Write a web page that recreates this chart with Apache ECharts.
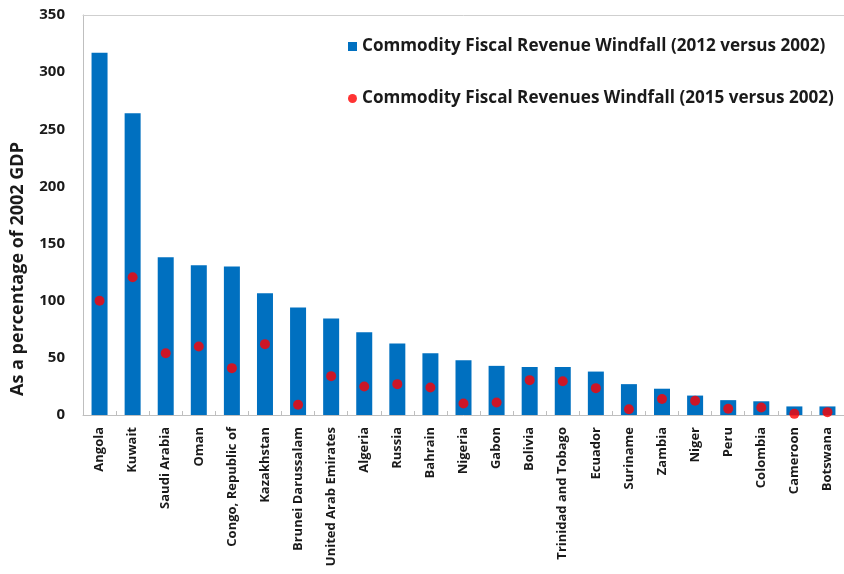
<!DOCTYPE html>
<html><head><meta charset="utf-8">
<script src="https://cdn.jsdelivr.net/npm/echarts@6/dist/echarts.min.js"></script>
<style>html,body{margin:0;padding:0;background:#fff}#c{width:844px;height:574px}</style>
</head><body><div id="c"></div>
<script>
const categories = ["Angola","Kuwait","Saudi Arabia","Oman","Congo, Republic of","Kazakhstan","Brunei Darussalam","United Arab Emirates","Algeria","Russia","Bahrain","Nigeria","Gabon","Bolivia","Trinidad and Tobago","Ecuador","Suriname","Zambia","Niger","Peru","Colombia","Cameroon","Botswana"];
const windfall2012 = [317,264,138,131,130,106.5,94,84.5,72.5,62.5,54,48,43,42,42,38,27,23,17,13,12,7.5,7.5];
const windfall2015 = [100,120.5,54,60,41,62,9,34,25,27,24,10,11,30.5,29.5,23.5,5,14,12.5,5.5,6.5,1,2.5];
const yTicks = {min:0,max:350,interval:50};

const FONT = 'Open Sans';
const chart = echarts.init(document.getElementById('c'));
chart.setOption({
  animation:false,
  textStyle:{fontFamily:FONT},
  grid:{left:83,right:-9,top:15,bottom:159},
  legend:[{
    data:[{name:'Commodity Fiscal Revenue Windfall (2012 versus 2002)',icon:'rect'}],
    left:343,top:33,itemWidth:9,itemHeight:9,itemGap:8,
    textStyle:{fontFamily:FONT,fontWeight:'bold',fontSize:17.1,color:'#1a1a1a'}
  },{
    data:[{name:'Commodity Fiscal Revenues Windfall (2015 versus 2002)',icon:'circle'}],
    left:343,top:85,itemWidth:9,itemHeight:9,itemGap:8,
    textStyle:{fontFamily:FONT,fontWeight:'bold',fontSize:17.1,color:'#1a1a1a'}
  }],
  xAxis:[{
    type:'category',data:categories,
    axisLine:{lineStyle:{color:'#bfbfbf',width:1}},
    axisTick:{show:true,inside:true,length:4,lineStyle:{color:'#bfbfbf'}},
    axisLabel:{rotate:90,interval:0,fontFamily:FONT,fontWeight:'bold',fontSize:13,color:'#1a1a1a',margin:12}
  },{
    type:'category',data:categories,position:'top',
    axisLine:{lineStyle:{color:'#cfcfcf',width:1}},
    axisTick:{show:false},axisLabel:{show:false}
  }],
  yAxis:{
    type:'value',min:yTicks.min,max:yTicks.max,interval:yTicks.interval,
    name:'As a percentage of 2002 GDP',nameLocation:'middle',nameGap:56,nameRotate:90,
    nameTextStyle:{fontFamily:FONT,fontWeight:'bold',fontSize:18,color:'#1a1a1a',padding:[0,108,0,0]},
    axisLine:{show:true,lineStyle:{color:'#bfbfbf'}},
    axisTick:{show:false},
    splitLine:{show:false},
    axisLabel:{fontFamily:FONT,fontWeight:'bold',fontSize:15,color:'#1a1a1a',margin:18}
  },
  series:[{
    name:'Commodity Fiscal Revenue Windfall (2012 versus 2002)',
    type:'bar',data:windfall2012,barWidth:16,
    itemStyle:{color:'#0070C0'}
  },{
    name:'Commodity Fiscal Revenues Windfall (2015 versus 2002)',
    type:'scatter',data:windfall2015,symbol:'circle',symbolSize:10,
    itemStyle:{color:'#FF0000'},z:5
  }]
});
</script></body></html>
